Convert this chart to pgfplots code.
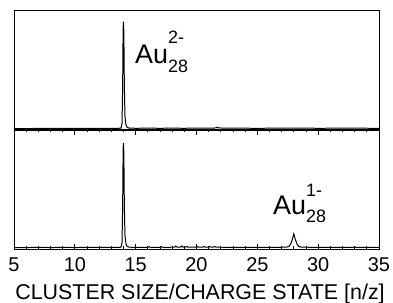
\documentclass[border=0pt]{standalone}
\usepackage{pgfplots}
\pgfplotsset{compat=1.18}
\usepackage{fontspec}
\setmainfont{Liberation Sans}
\pgfplotstableread{
x y
5 0.004
6 0.003
7 0.005
8 0.004
9 0.006
10 0.004
11 0.005
12 0.006
13 0.005
13.6 0.006
13.8 0.008
13.88 0.05
13.93 0.4
13.97 0.95
14.0 1.0
14.03 0.9
14.07 0.4
14.12 0.12
14.2 0.04
14.3 0.015
14.45 0.008
15 0.006
16 0.007
17 0.006
18 0.007
19 0.006
20 0.008
21 0.007
21.6 0.009
21.7 0.016
21.8 0.009
23 0.007
25 0.006
27 0.007
28 0.008
30 0.006
32 0.007
35 0.006
}\toptable
\pgfplotstableread{
x y
5 0.004
6 0.004
7 0.005
8 0.004
9 0.005
10 0.004
11 0.005
12 0.005
13 0.005
13.6 0.005
13.8 0.008
13.88 0.05
13.93 0.4
13.97 0.95
14.0 1.0
14.03 0.9
14.07 0.4
14.12 0.12
14.2 0.04
14.3 0.015
14.45 0.007
15 0.006
16 0.006
16.1 0.012
16.2 0.006
17 0.006
17.1 0.013
17.2 0.006
18.2 0.007
18.3 0.018
18.4 0.007
18.7 0.007
18.8 0.02
18.9 0.007
19.1 0.007
19.2 0.014
19.3 0.007
20 0.007
20.1 0.013
20.2 0.007
20.5 0.007
20.6 0.014
20.7 0.007
21.0 0.007
21.1 0.013
21.2 0.007
21.4 0.007
21.5 0.015
21.6 0.007
23 0.006
25 0.006
26.8 0.006
27.4 0.008
27.6 0.015
27.75 0.04
27.9 0.09
28.0 0.135
28.1 0.09
28.25 0.04
28.4 0.015
28.6 0.008
29.5 0.006
31 0.006
32.9 0.006
33 0.011
33.1 0.006
35 0.006
}\bottable
\begin{document}
\begin{tikzpicture}
\useasboundingbox (0,0) rectangle (393bp,303bp);
\begin{axis}[at={(14bp,54bp)}, anchor=south west, scale only axis,
  width=365bp, height=119bp, xmin=5, xmax=35, ymin=-0.01, ymax=1.125,
  xtick={5,10,...,35}, minor x tick num=4, xtick pos=both, tick align=inside,
  ytick=\empty, major tick length=5bp, minor tick length=2.5bp,
  /pgf/number format/assume math mode=true,
  xticklabel style={font=\fontsize{20}{20}\selectfont, yshift=-5bp},
  axis line style={line width=1pt}, every tick/.style={black, line width=0.8pt},
  clip=false]
\addplot[black, line width=1pt] table {\bottable};
\node[anchor=base west, inner sep=0pt, font=\fontsize{27}{27}\selectfont] at (axis cs:26.29,0.32) {Au\rlap{\raisebox{18bp}{\fontsize{18}{18}\selectfont 1-}}\raisebox{-8bp}{\fontsize{18}{18}\selectfont 28}};
\end{axis}
\begin{axis}[at={(14bp,173bp)}, anchor=south west, scale only axis,
  width=365bp, height=119bp, xmin=5, xmax=35, ymin=-0.01, ymax=1.10,
  xtick=\empty, ytick=\empty,
  axis line style={line width=1pt}, clip=false]
\addplot[black, line width=1pt] table {\toptable};
\node[anchor=base west, inner sep=0pt, font=\fontsize{27}{27}\selectfont] at (axis cs:14.94,0.61) {Au\rlap{\raisebox{20bp}{\fontsize{18}{18}\selectfont 2-}}\raisebox{-9bp}{\fontsize{18}{18}\selectfont 28}};
\end{axis}
\node[anchor=base, inner sep=0pt, font=\fontsize{21.5}{21.5}\selectfont] at (200bp,4bp) {CLUSTER SIZE/CHARGE STATE [n/z]};
\end{tikzpicture}
\end{document}
